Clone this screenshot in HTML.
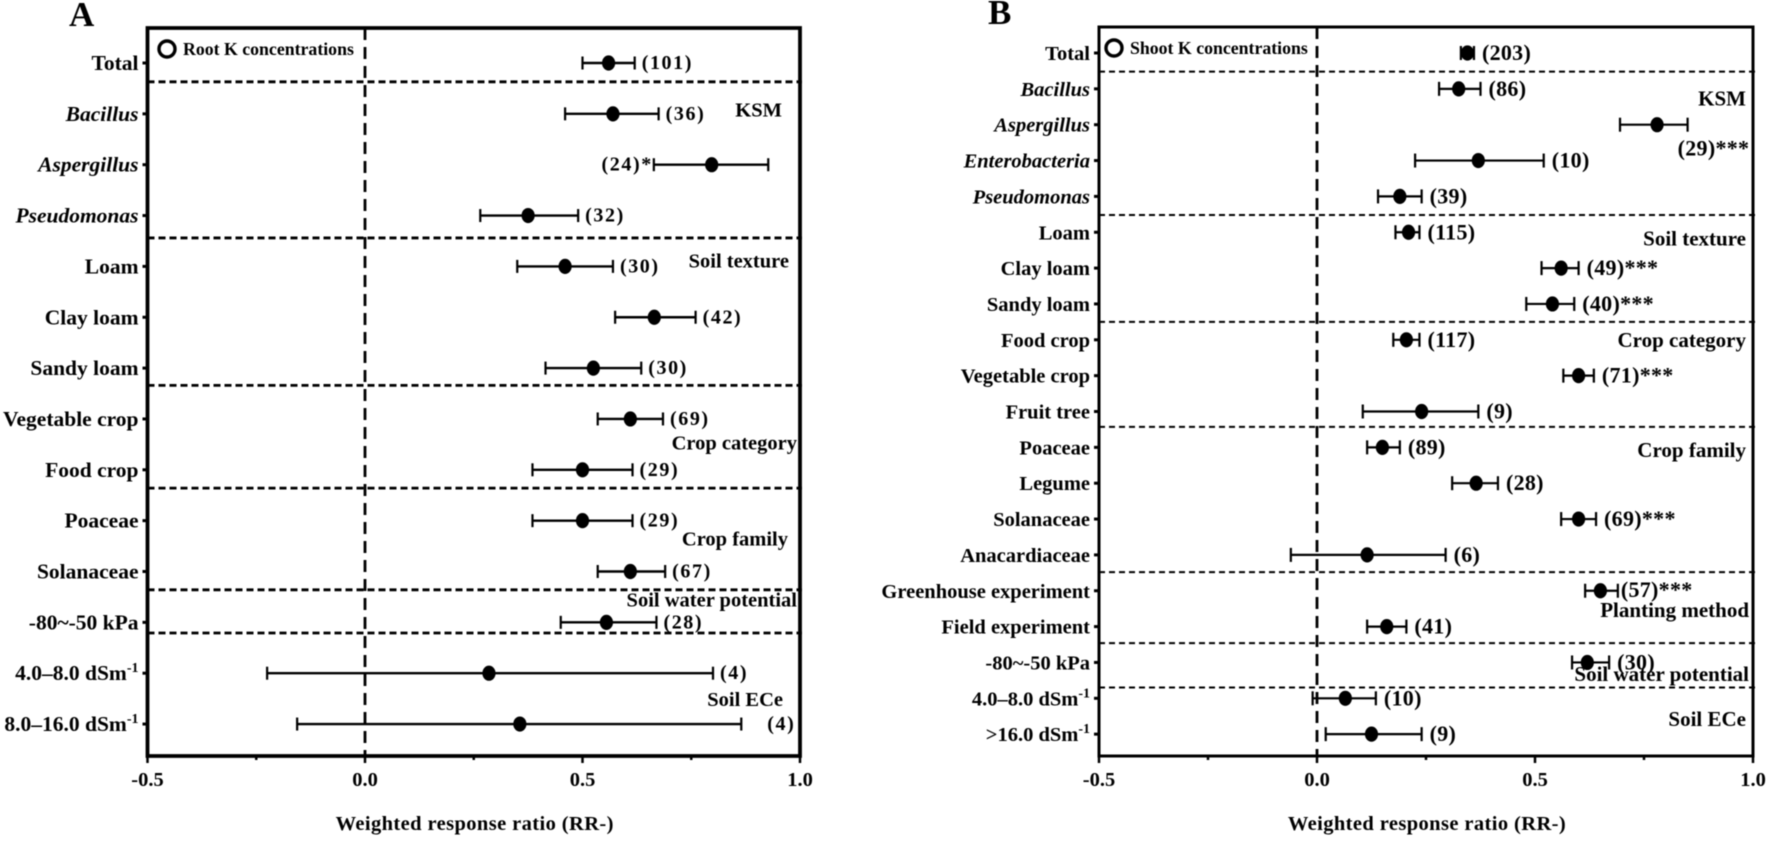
<!DOCTYPE html>
<html lang="en">
<head>
<meta charset="utf-8">
<title>Weighted response ratio forest plots</title>
<style>
html,body{margin:0;padding:0;background:#fff;width:1772px;height:842px;overflow:hidden}
svg{display:block;filter:blur(0.4px)}
text{font-family:"Liberation Serif",serif;font-weight:bold;fill:#000}
</style>
</head>
<body>
<svg id="chart" width="1772" height="842" viewBox="0 0 1772 842" xmlns="http://www.w3.org/2000/svg"></svg>
<script>
// Panel A data
const aCategories = ["Total","Bacillus","Aspergillus","Pseudomonas","Loam","Clay loam","Sandy loam","Vegetable crop","Food crop","Poaceae","Solanaceae","-80~-50 kPa","4.0–8.0 dSm-1","8.0–16.0 dSm-1"];
const aMeans = [0.56,0.57,0.797,0.375,0.46,0.665,0.525,0.61,0.50,0.50,0.61,0.555,0.285,0.356];
const aLower = [0.50,0.46,0.664,0.265,0.35,0.575,0.415,0.535,0.385,0.385,0.535,0.45,-0.225,-0.156];
const aUpper = [0.62,0.675,0.927,0.49,0.57,0.76,0.635,0.685,0.615,0.615,0.69,0.67,0.80,0.865];
const aCounts = ["(101)","(36)","(24)*","(32)","(30)","(42)","(30)","(69)","(29)","(29)","(67)","(28)","(4)","(4)"];
const aGroups = ["KSM","Soil texture","Crop category","Crop family","Soil water potential","Soil ECe"];
// Panel B data
const bCategories = ["Total","Bacillus","Aspergillus","Enterobacteria","Pseudomonas","Loam","Clay loam","Sandy loam","Food crop","Vegetable crop","Fruit tree","Poaceae","Legume","Solanaceae","Anacardiaceae","Greenhouse experiment","Field experiment","-80~-50 kPa","4.0–8.0 dSm-1",">16.0 dSm-1"];
const bMeans = [0.345,0.325,0.78,0.37,0.19,0.21,0.56,0.54,0.205,0.60,0.24,0.15,0.365,0.60,0.115,0.65,0.16,0.62,0.065,0.125];
const bLower = [0.33,0.28,0.695,0.225,0.14,0.18,0.515,0.48,0.175,0.565,0.105,0.115,0.31,0.56,-0.06,0.615,0.115,0.585,-0.01,0.02];
const bUpper = [0.36,0.375,0.85,0.52,0.24,0.235,0.60,0.59,0.235,0.635,0.37,0.19,0.415,0.64,0.295,0.69,0.205,0.67,0.135,0.24];
const bCounts = ["(203)","(86)","(29)***","(10)","(39)","(115)","(49)***","(40)***","(117)","(71)***","(9)","(89)","(28)","(69)***","(6)","(57)***","(41)","(30)","(10)","(9)"];
const bGroups = ["KSM","Soil texture","Crop category","Crop family","Planting method","Soil water potential","Soil ECe"];
// Shared axis
const xTickValues = [-0.5,-0.25,0,0.25,0.5,0.75,1];
const xTickLabels = ["-0.5","","0.0","","0.5","","1.0"];
const italicNames = ["Bacillus","Aspergillus","Pseudomonas","Enterobacteria"];

const NS = "http://www.w3.org/2000/svg";
const root = document.getElementById("chart");
function mk(tag, attrs, parent, txt){
  const e = document.createElementNS(NS, tag);
  for (const k in attrs) e.setAttribute(k, attrs[k]);
  if (txt !== undefined) e.textContent = txt;
  parent.appendChild(e);
  return e;
}
function drawPanel(p){
  const g = mk("g", {}, root);
  
  
  const x = v => p.x0 + p.unit * v;
  const y = r => p.y0 + p.step * r;
  const L = x(-0.5), R = x(1);

  const letter = mk("text", {x:p.letterX, y:p.letterY, "font-size":35}, g, p.letter);
  
  

  // zero reference line
  const zero = mk("line", {x1:x(0), x2:x(0), y1:p.top, y2:p.bottom, stroke:"#000", "stroke-width":2.8, "stroke-dasharray":"12 7"}, g);
  
  

  // dividers
  p.dividers.forEach(r => {
    const d = mk("line", {x1:L, x2:R + 2, y1:y(r), y2:y(r), stroke:"#000", "stroke-width":p.divW, "stroke-dasharray":p.divDash}, g);
    
    
  });

  // frame
  const frame = mk("path", {d:`M${L} ${p.top}H${R}V${p.bottom}H${L}Z`, fill:"none", stroke:"#000", "stroke-width":p.frameW}, g);
  
  

  // x ticks
  xTickValues.forEach((v, i) => {
    const t = mk("line", {x1:x(v), x2:x(v), y1:p.bottom, y2:p.bottom + (xTickLabels[i] ? 7 : 4), stroke:"#000", "stroke-width":2.5}, g);
    
    
    if (xTickLabels[i]) {
      const l = mk("text", {x:x(v), y:p.bottom + 30, "text-anchor":"middle", "font-size":20.5}, g, xTickLabels[i]);
      
      
    }
  });
  const title = mk("text", {x:x(0.25) + 1, y:p.bottom + 74, "text-anchor":"middle", "font-size":20.5, "letter-spacing":"0.4"}, g, "Weighted response ratio (RR-)");
  
  

  // legend
  const c = mk("circle", {cx:p.legendX, cy:p.legendY, r:8, fill:"none", stroke:"#000", "stroke-width":3.4}, g);
  
  
  const lt = mk("text", {x:p.legendX + 16, y:p.legendY + 6, "font-size":17.8}, g, p.legend);
  
  

  // rows
  p.categories.forEach((cat, i) => {
    const yy = y(i);
    const tick = mk("line", {x1:L - 5, x2:L, y1:yy, y2:yy, stroke:"#000", "stroke-width":3}, g);
    
    

    const label = mk("text", {x:L - 9, y:yy + 7, "text-anchor":"end", "font-size":p.labelSize}, g);
    
    
    if (italicNames.includes(cat)) label.setAttribute("font-style", "italic");
    if (cat.endsWith("-1")) {
      mk("tspan", {}, label, cat.slice(0, -2));
      mk("tspan", {dy:-8, "font-size":14}, label, "-1");
    } else {
      label.textContent = cat;
    }

    const lo = x(p.lower[i]), hi = x(p.upper[i]), m = x(p.means[i]);
    const whisker = mk("line", {x1:lo, x2:hi, y1:yy, y2:yy, stroke:"#000", "stroke-width":p.barW}, g);
    
    
    [lo, hi].forEach(cx => {
      const cap = mk("line", {x1:cx, x2:cx, y1:yy - p.cap, y2:yy + p.cap, stroke:"#000", "stroke-width":2.2}, g);
      
      
    });
    const dot = mk("ellipse", {cx:m, cy:yy, rx:p.dot, ry:p.dot + 1, fill:"#000"}, g);
    
    

    const place = p.place(cat, i, lo, hi, yy);
    const count = mk("text", {x:place.x, y:place.y, "text-anchor":place.anchor, "font-size":p.countSize, "letter-spacing":p.countSpacing}, g, p.counts[i]);
    
    
  });

  // group annotations
  p.groups.forEach((name, i) => {
    const t = mk("text", {x:p.groupEnd[i], y:y(p.groupRows[i]) + 6, "text-anchor":"end", "font-size":p.groupSize}, g, name);
    
    
  });
}

drawPanel({
  id:"a", letter:"A", letterX:69, letterY:26,
  x0:365, unit:435, y0:63, step:50.85, top:28, bottom:756,
  frameW:3.8, barW:2.4, cap:6.5, dot:6.6, divW:2.8, divDash:"7 4",
  labelSize:21.5, countSize:20, countSpacing:"1.6", groupSize:20.5,
  legendX:167, legendY:49, legend:"Root K concentrations",
  categories:aCategories, means:aMeans, lower:aLower, upper:aUpper, counts:aCounts,
  groups:aGroups,
  dividers:[0.37,3.44,6.34,8.36,10.36,11.21],
  groupRows:[0.93,3.9,7.48,9.37,10.57,12.53],
  groupEnd:[782,789,797,788,797,783],
  place:(cat,i,lo,hi,yy)=>{
    if (cat === "Aspergillus") return {x:lo - 1, y:yy + 6, anchor:"end"};
    if (i === 13) return {x:hi + 26, y:yy + 6, anchor:"start"};
    return {x:hi + 7, y:yy + 6, anchor:"start"};
  }
});

drawPanel({
  id:"b", letter:"B", letterX:988, letterY:24,
  x0:1317, unit:436, y0:53, step:35.85, top:27, bottom:756,
  frameW:3, barW:2.2, cap:7, dot:6.6, divW:2, divDash:"6 4",
  labelSize:20.5, countSize:22, countSpacing:"0.3", groupSize:21,
  legendX:1114, legendY:48, legend:"Shoot K concentrations",
  categories:bCategories, means:bMeans, lower:bLower, upper:bUpper, counts:bCounts,
  groups:bGroups,
  dividers:[0.52,4.52,7.5,10.43,14.48,16.46,17.7],
  groupRows:[1.3,5.2,8.04,11.1,15.57,17.35,18.6],
  groupEnd:[1746,1746,1746,1746,1749,1749,1746],
  place:(cat,i,lo,hi,yy)=>{
    if (cat === "Aspergillus") return {x:hi - 10, y:yy + 31, anchor:"start"};
    if (cat === "Greenhouse experiment") return {x:hi + 3, y:yy + 6, anchor:"start"};
    return {x:hi + 8, y:yy + 7, anchor:"start"};
  }
});
</script>
</body>
</html>
